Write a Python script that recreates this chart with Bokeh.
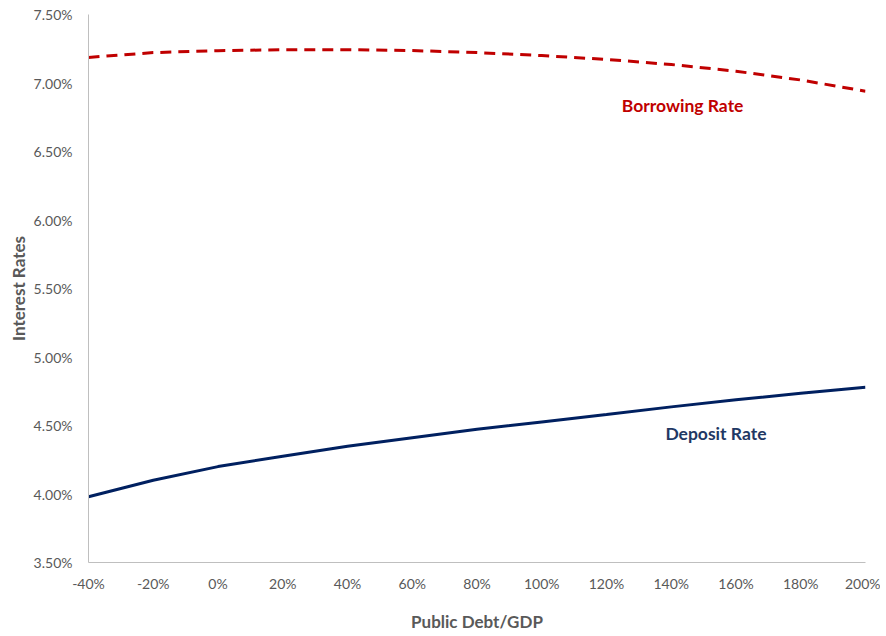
from bokeh.plotting import figure
from bokeh.models import FixedTicker, NumeralTickFormatter, Range1d, Label
from bokeh.embed import file_html
from bokeh.resources import INLINE

# Data (fractions)
debt_gdp = [-0.40, -0.20, 0.00, 0.20, 0.40, 0.60, 0.80, 1.00, 1.20, 1.40, 1.60, 1.80, 2.00]
borrowing_rate = [0.07187, 0.07222, 0.07236, 0.07243, 0.07243, 0.07237, 0.07222, 0.07200,
                  0.07172, 0.07135, 0.07086, 0.07022, 0.06940]
deposit_rate = [0.03980, 0.04100, 0.04200, 0.04276, 0.04349, 0.04410, 0.04472, 0.04526,
                0.04580, 0.04636, 0.04688, 0.04735, 0.04780]

x_ticks = [-0.4, -0.2, 0.0, 0.2, 0.4, 0.6, 0.8, 1.0, 1.2, 1.4, 1.6, 1.8, 2.0]
y_ticks = [0.035, 0.040, 0.045, 0.050, 0.055, 0.060, 0.065, 0.070, 0.075]

series_labels = ["Borrowing Rate", "Deposit Rate"]
label_x = [1.435, 1.538]
label_y = [0.06838, 0.04440]
x_title = "Public Debt/GDP"
y_title = "Interest Rates"

FONT = "Lato"
GREY = "#595959"
RED = "#C00000"
NAVY = "#002060"

p = figure(width=880, height=634, output_backend="svg", toolbar_location=None,
           x_range=Range1d(-0.4, 2.0), y_range=Range1d(0.035, 0.075),
           min_border_left=88, min_border_right=15, min_border_top=14, min_border_bottom=10)
p.outline_line_color = None
p.xgrid.visible = False
p.ygrid.visible = False
p.background_fill_color = "white"
p.border_fill_color = "white"

p.line(debt_gdp, borrowing_rate, line_color=RED, line_width=3, line_dash="11 7")
p.line(debt_gdp, deposit_rate, line_color=NAVY, line_width=3)

for txt, lx, ly, col in zip(series_labels, label_x, label_y, [RED, "#1F3864"]):
    p.add_layout(Label(x=lx, y=ly, text=txt, text_align="center", text_baseline="middle",
                       text_font=FONT, text_font_style="bold", text_font_size="17.5px",
                       text_color=col))

for ax in (p.xaxis[0], p.yaxis[0]):
    ax.axis_line_color = "#BFBFBF"
    ax.axis_line_width = 1
    ax.major_tick_line_color = None
    ax.minor_tick_line_color = None
    ax.major_label_text_font = FONT
    ax.major_label_text_font_size = "14px"
    ax.major_label_text_color = GREY
    ax.axis_label_text_font = FONT
    ax.axis_label_text_font_size = "17px"
    ax.axis_label_text_font_style = "bold"
    ax.axis_label_text_color = GREY

p.xaxis.ticker = FixedTicker(ticks=x_ticks)
p.yaxis.ticker = FixedTicker(ticks=y_ticks)
p.xaxis.formatter = NumeralTickFormatter(format="0%")
p.yaxis.formatter = NumeralTickFormatter(format="0.00%")
p.xaxis.axis_label = x_title
p.yaxis.axis_label = y_title
p.xaxis.major_label_standoff = 6
p.xaxis.axis_label_standoff = 16
p.yaxis.major_label_standoff = 10
p.yaxis.axis_label_standoff = 2

open("out.html", "w").write(file_html(p, INLINE))
